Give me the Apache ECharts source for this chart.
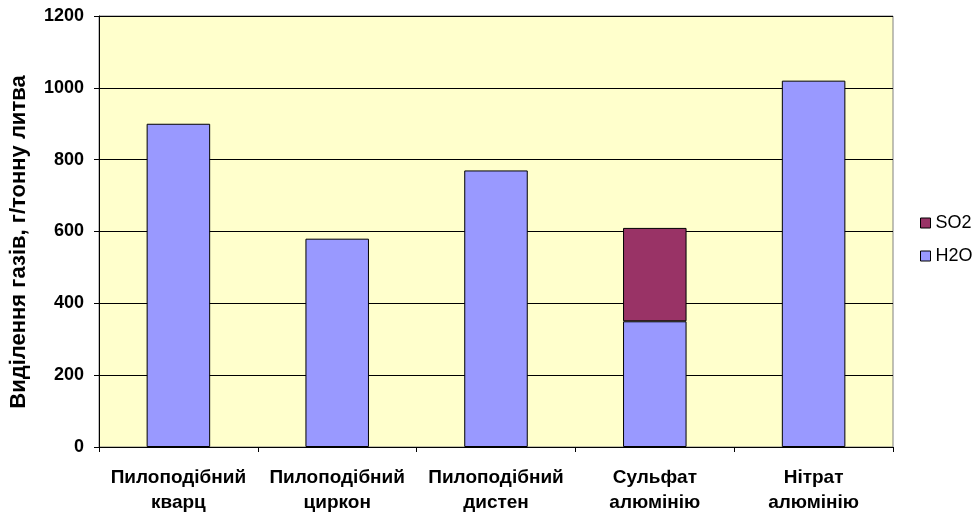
<!DOCTYPE html>
<html>
<head>
<meta charset="utf-8">
<script src="https://cdn.jsdelivr.net/npm/echarts@6/dist/echarts.min.js"></script>
<style>
  html, body { margin: 0; padding: 0; background: #fff; }
  #chart { width: 977px; height: 515px; }
</style>
</head>
<body>
<div id="chart"></div>
<script>
// Categories (two-line labels) and gas emission values, g per tonne of casting
const categories = [
  'Пилоподібний\nкварц',
  'Пилоподібний\nциркон',
  'Пилоподібний\nдистен',
  'Сульфат\nалюмінію',
  'Нітрат\nалюмінію'
];
const h2oValues = [900, 580, 770, 350, 1020];
const so2Values = ['-', '-', '-', 260, '-'];
const yTicks = { min: 0, max: 1200, interval: 200 };
const yTitle = 'Виділення газів, г/тонну литва';

const font = 'Liberation Sans, Arial, sans-serif';
const chart = echarts.init(document.getElementById('chart'));

chart.setOption({
  animation: false,
  backgroundColor: '#ffffff',
  grid: {
    left: 99, right: 84, top: 16, bottom: 68,
    outerBoundsMode: 'none',
    containLabel: false,
    show: true,
    backgroundColor: '#FFFFCC',
    borderColor: '#808080',
    borderWidth: 1
  },
  legend: {
    orient: 'vertical',
    left: 915, top: 209,
    itemWidth: 10, itemHeight: 10,
    itemGap: 15,
    icon: 'rect',
    textStyle: { fontFamily: font, fontSize: 18, color: '#000' },
    data: [
      { name: 'SO2', itemStyle: { borderColor: '#000', borderWidth: 1 } },
      { name: 'H2O', itemStyle: { borderColor: '#000', borderWidth: 1 } }
    ]
  },
  graphic: [{
    type: 'text',
    x: 19, y: 242,
    rotation: Math.PI / 2,
    style: {
      text: yTitle,
      fontFamily: font, fontSize: 22, fontWeight: 'bold', fill: '#000',
      align: 'center', verticalAlign: 'middle'
    }
  }],
  xAxis: {
    type: 'category',
    data: categories,
    axisLine: { lineStyle: { color: '#000', width: 1 } },
    axisTick: { show: true, length: 5, alignWithLabel: false, lineStyle: { color: '#000' } },
    axisLabel: {
      interval: 0,
      margin: 18,
      fontFamily: font, fontSize: 19, fontWeight: 'bold', color: '#000',
      lineHeight: 25
    }
  },
  yAxis: {
    type: 'value',
    min: yTicks.min, max: yTicks.max, interval: yTicks.interval,
    axisLine: { show: true, lineStyle: { color: '#000', width: 1 } },
    axisTick: { show: true, length: 5, lineStyle: { color: '#000' } },
    axisLabel: {
      margin: 15, fontFamily: font, fontSize: 18, fontWeight: 'bold', color: '#000',
      formatter: v => String(v)
    },
    splitLine: { show: true, lineStyle: { color: '#000', width: 1 } }
  },
  series: [
    {
      name: 'H2O', type: 'bar', stack: 'gas',
      data: h2oValues,
      barWidth: '40%',
      itemStyle: { color: '#9999FF', borderColor: '#000', borderWidth: 1 }
    },
    {
      name: 'SO2', type: 'bar', stack: 'gas',
      data: so2Values,
      barWidth: '40%',
      itemStyle: { color: '#993366', borderColor: '#000', borderWidth: 1 }
    }
  ]
});
</script>
</body>
</html>
